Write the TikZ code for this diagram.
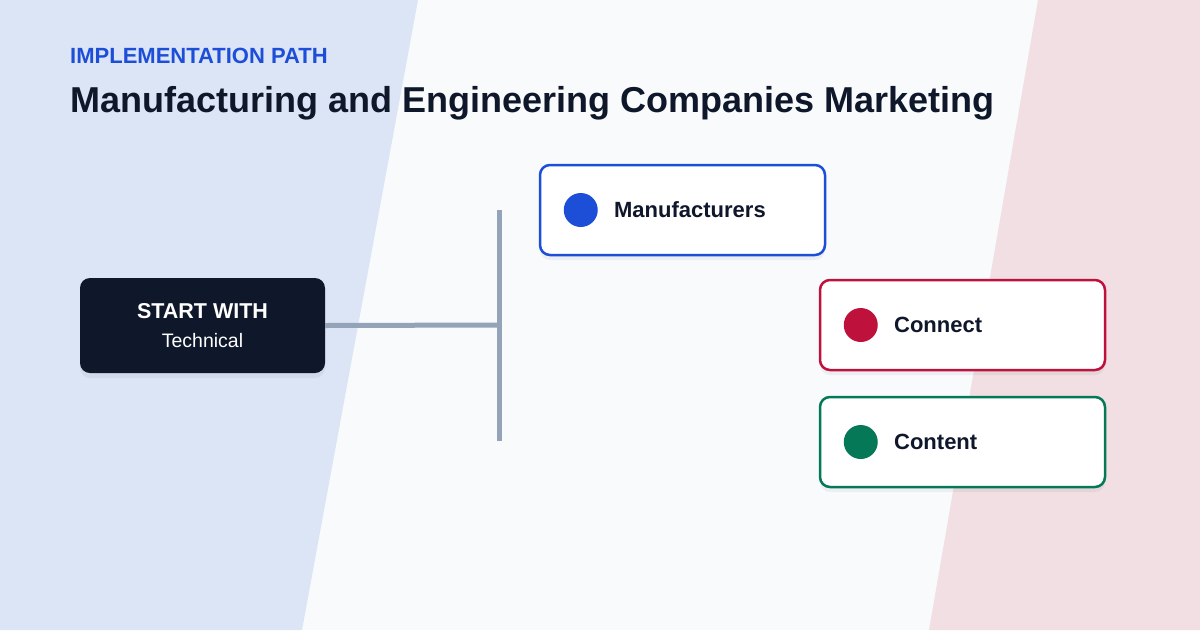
\documentclass[tikz,border=0pt]{standalone}
\usepackage{fontspec}
\setmainfont{Liberation Sans}
\usepackage{xcolor}
\usepackage{tikz}
\usetikzlibrary{positioning,shapes,backgrounds,shadows}

\definecolor{ink}{HTML}{0F172A}
\definecolor{slate}{HTML}{94A3B8}
\definecolor{pageblue}{HTML}{DCE5F5}
\definecolor{pagemid}{HTML}{F8FAFC}
\definecolor{pagepink}{HTML}{F1DFE4}
\definecolor{brandblue}{HTML}{1D4ED8}
\definecolor{brandred}{HTML}{BE123C}
\definecolor{brandgreen}{HTML}{047857}

\begin{document}
\begin{tikzpicture}[x=1pt, y=-1pt, >=stealth,
  soft shadow/.style={drop shadow={shadow xshift=0pt, shadow yshift=-5pt,
    opacity=0.05, fill=ink}},
  every card/.style={draw, line width=2.5pt, fill=white, rounded corners=10pt,
    minimum width=285pt, minimum height=90pt, soft shadow},
  every dot/.style={circle, inner sep=0pt, minimum size=34pt},
  every tag/.style={anchor=west, inner sep=0pt, text=ink,
    font=\fontsize{22}{26}\selectfont\bfseries},
  trunk/.style={draw=slate, line width=5pt}]

\useasboundingbox (0,0) rectangle (1200,630);
\fill[pagemid] (0,0) rectangle (1200,630);
\fill[pageblue] (0,0) -- (418,0) -- (302,630) -- (0,630) -- cycle;
\fill[pagepink] (1038,0) -- (1200,0) -- (1200,630) -- (929,630) -- cycle;

\node [anchor=base west, inner sep=0pt, text=brandblue,
  font=\fontsize{22}{26}\selectfont\bfseries] (kicker) at (70,63) {IMPLEMENTATION PATH};
\node [anchor=base west, inner sep=0pt, text=ink,
  font=\fontsize{36}{42}\selectfont\bfseries] (title) at (70,112)
  {Manufacturing and Engineering Companies Marketing};

\node [fill=ink, rounded corners=10pt, minimum width=245pt, minimum height=95pt,
  soft shadow] (start) at (202.5,325.5) {};
\node [anchor=base, inner sep=0pt, text=white, font=\fontsize{21.5}{26}\selectfont\bfseries]
  (start-head) at ([yshift=7.5pt]start.center) {START WITH};
\node [anchor=base, inner sep=0pt, text=white, font=\fontsize{19.5}{24}\selectfont]
  (start-body) at ([yshift=-21.5pt]start.center) {Technical};

\coordinate (trunk-top) at (499,210);
\coordinate (trunk-mid) at (499,325);
\coordinate (trunk-bot) at (499,441);

\draw [trunk] (start.east) -- (trunk-mid);
\draw [trunk] (trunk-top) -- (trunk-bot);

\foreach \m/\t/\c/\x/\y in {man/Manufacturers/brandblue/682.5/210,
                            con/Connect/brandred/962.5/325,
                            cnt/Content/brandgreen/962.5/442}
{
  \node [every card/.try, draw=\c] (card-\m) at (\x,\y) {};
  \node [every dot/.try, fill=\c] (dot-\m) at ([xshift=42pt]card-\m.west) {};
  \node [every tag/.try, right=16pt of dot-\m] (tag-\m) {\t};
}

\end{tikzpicture}
\end{document}
